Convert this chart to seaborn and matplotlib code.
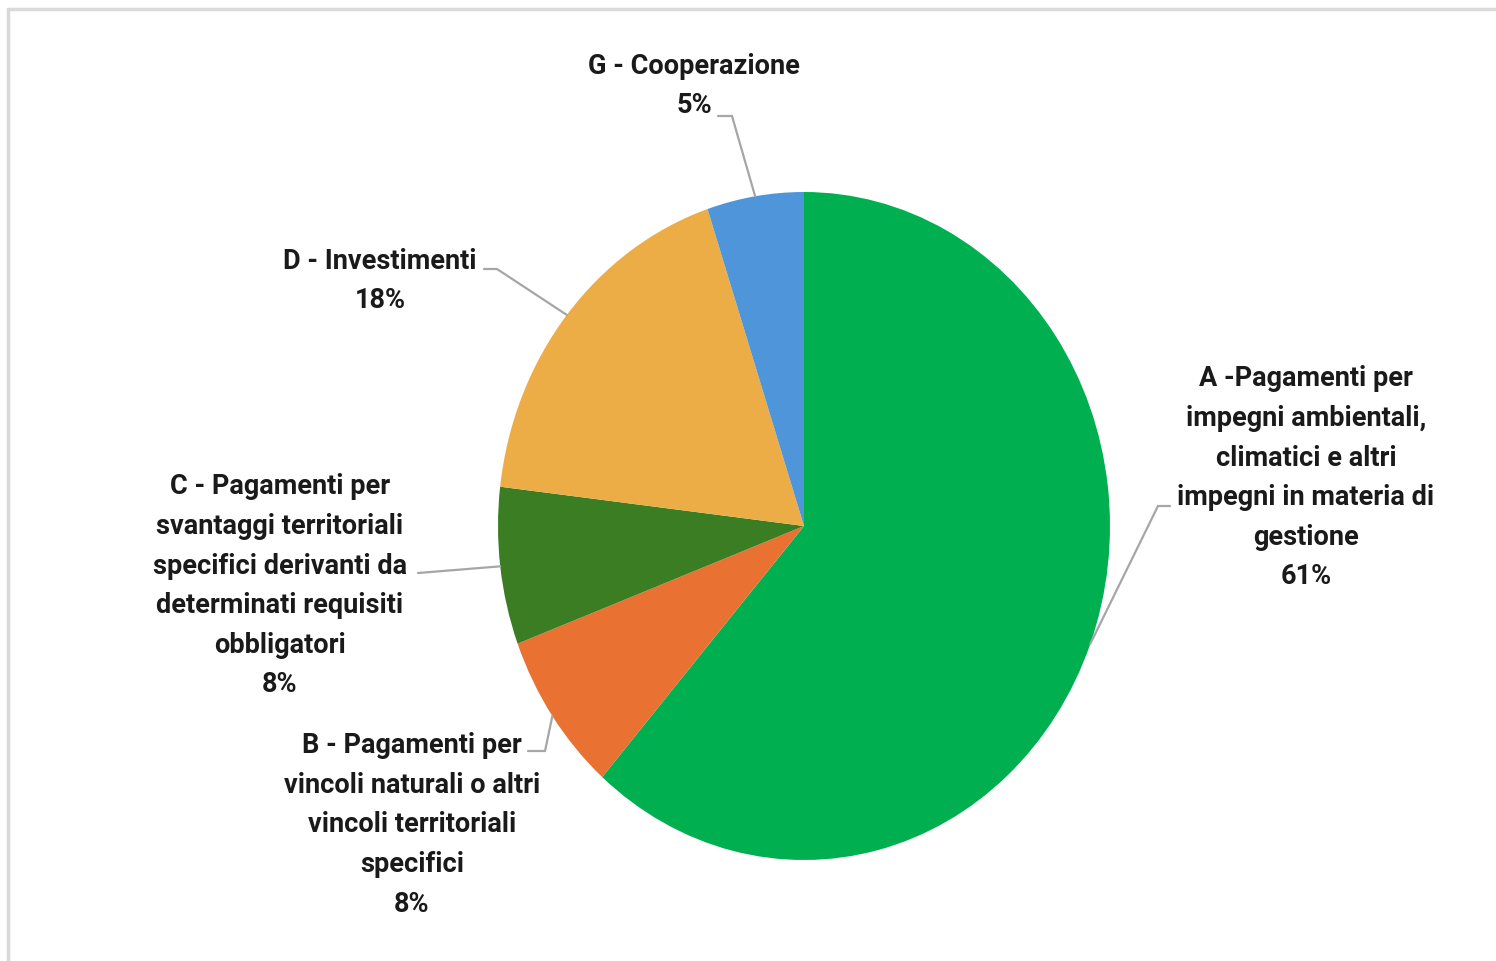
import numpy as np
import matplotlib
matplotlib.use("Agg")
import matplotlib.pyplot as plt
from matplotlib.lines import Line2D
import seaborn as sns

# Data
categories = [
    "A -Pagamenti per\nimpegni ambientali,\nclimatici e altri\nimpegni in materia di\ngestione",
    "B - Pagamenti per\nvincoli naturali o altri\nvincoli territoriali\nspecifici",
    "C - Pagamenti per\nsvantaggi territoriali\nspecifici derivanti da\ndeterminati requisiti\nobbligatori",
    "D - Investimenti",
    "G - Cooperazione",
]
shares = [61.4, 7.8, 7.6, 18.0, 5.1]
colors = ["#00B050", "#E97132", "#3B7D23", "#ECAD46", "#4E95D9"]

sns.set_theme(style="white")
plt.rcParams["font.family"] = ["Roboto", "DejaVu Sans"]

W, H = 1496, 962
CX, CY, RX, RY = 804, 527, 306, 334


def px(x, y):
    # pixel position (from top-left) -> data coords of the pie axes
    return (x - CX) / RX, (CY - y) / RY


fig = plt.figure(figsize=(W / 100, H / 100), dpi=100)
ax = fig.add_axes([0, 0, 1, 1])
wedges, _ = ax.pie(shares, colors=colors, startangle=90, counterclock=False,
                   radius=1, wedgeprops=dict(linewidth=0))
ax.set_aspect("auto")
ax.set_xlim((0 - CX) / RX, (W - CX) / RX)
ax.set_ylim((CY - H) / RY, CY / RY)
ax.axis("off")

total = sum(shares)
pct = [f"{v / total * 100:.0f}%" for v in shares]

# label layout (pixels): text centre, leader elbow, leader end
layout = [
    ((1306, 478), (1158, 507), (1170, 507)),
    ((412, 825), (545, 752), (528, 752)),
    ((280, 586), (418, 574), (418, 574)),
    ((380, 281), (497, 270), (484, 270)),
    ((694, 86), (732, 117), (718, 117)),
]

for w, name, p, (txt, elbow, end) in zip(wedges, categories, pct, layout):
    mid = np.deg2rad((w.theta1 + w.theta2) / 2)
    sx, sy = np.cos(mid), np.sin(mid)
    ex, ey = px(*elbow)
    fx, fy = px(*end)
    ax.plot([sx, ex, fx], [sy, ey, fy], color="#A6A6A6", lw=1.6,
            solid_joinstyle="miter", zorder=1)
    tx, ty = px(*txt)
    ax.text(tx, ty, f"{name}\n{p}", ha="center", va="center",
            fontsize=19.5, fontweight="bold", color="#1a1a1a",
            linespacing=1.6)

# chart frame (left and top edges visible)
fig.add_artist(Line2D([8 / W, 8 / W], [0, 1 - 10 / H], transform=fig.transFigure,
                      color="#D9D9D9", lw=2.5))
fig.add_artist(Line2D([8 / W, 1], [1 - 10 / H, 1 - 10 / H], transform=fig.transFigure,
                      color="#D9D9D9", lw=2.5))

fig.savefig("out.png", dpi=100)
